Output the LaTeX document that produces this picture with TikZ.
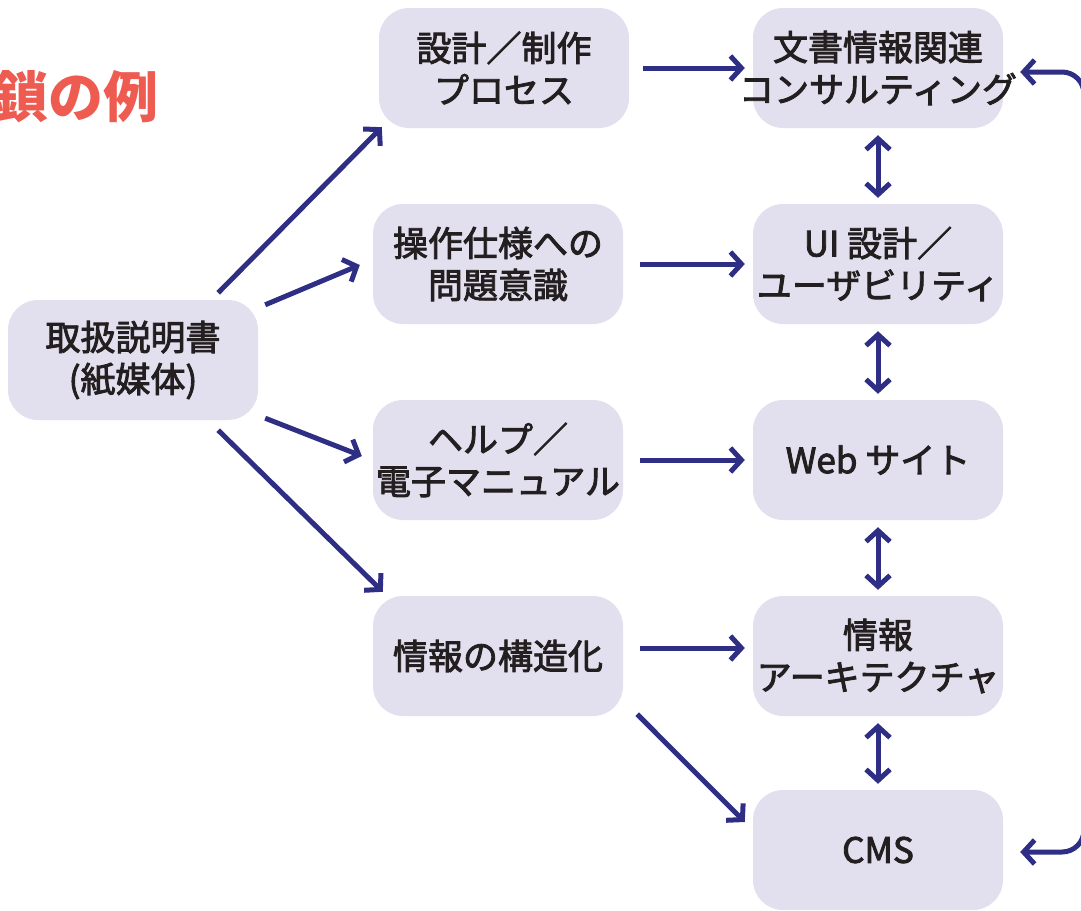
\documentclass[tikz,border=0pt]{standalone}
\usepackage{fontspec}
\setmainfont{Noto Sans CJK JP}
\newfontfamily\boxfont{Noto Sans CJK JP}[UprightFeatures={FakeBold=2.5}]
\usetikzlibrary{arrows.meta}
\definecolor{boxfill}{HTML}{E2E0EE}
\definecolor{arrowblue}{HTML}{2E2E85}
\definecolor{titlered}{HTML}{EE5B50}
\definecolor{ink}{HTML}{231F20}

\begin{document}
\begin{tikzpicture}[x=1pt,y=-1pt,
  box/.style={rounded corners=30pt, fill=boxfill, minimum width=250pt, minimum height=120pt,
    align=center, inner sep=0pt, text=ink, font=\boxfont\fontsize{35}{42}\selectfont},
  arr/.style={arrowblue, line width=5pt, -{Straight Barb[length=11pt,width=24pt]}},
  dbl/.style={arr, {Straight Barb[length=11pt,width=24pt]}-{Straight Barb[length=11pt,width=24pt]}}]
\useasboundingbox (0,0) rectangle (1081,910);

\node [text=titlered, font=\bfseries\fontsize{55}{60}\selectfont, anchor=east] (title) at (162,97) {鎖の例};

% left and middle column
\node [box] (manual) at (133,360) {取扱説明書\\(紙媒体)};
\node [box] (process) at (504,68) {設計／制作\\プロセス};
\node [box] (spec) at (498,264) {操作仕様への\\問題意識};
\node [box] (help) at (498,460) {ヘルプ／\\電子マニュアル};
\node [box] (struct) at (498,656) {情報の構造化};

% right column
\node [box] (consult) at (878,68) {文書情報関連\\\makebox[250pt]{コンサルティング}};
\node [box] (ui) at (878,264) {UI 設計／\\ユーザビリティ};
\node [box] (web) at (878,460) {Web サイト};
\node [box] (ia) at (878,656) {情報\\アーキテクチャ};
\node [box] (cms) at (878,850) {CMS};
\coordinate (rail) at (1084,0);

\draw [arr] ([shift={(-40,-7)}]manual.north east) -- ([shift={(3,-1)}]process.south west);
\draw [arr] ([shift={(7,5)}]manual.north east) -- ([shift={(-13,1)}]spec.west);
\draw [arr] ([shift={(7,-2)}]manual.south east) -- ([shift={(-11,-4)}]help.west);
\draw [arr] ([shift={(-40,10)}]manual.south east) -- ([shift={(10,-4)}]struct.north west);

\draw [arr] ([shift={(14,0)}]process.east) -- ([shift={(-8,0)}]consult.west);
\draw [arr] ([shift={(17,0)}]spec.east) -- ([shift={(-8,0)}]ui.west);
\draw [arr] ([shift={(17,0)}]help.east) -- ([shift={(-8,0)}]web.west);
\draw [arr] ([shift={(17,-8)}]struct.east) -- ([shift={(-8,-8)}]ia.west);
\draw [arr] ([shift={(14,-2)}]struct.south east) -- ([shift={(-8,-28)}]cms.west);

\draw [dbl] ([shift={(0,7)}]consult.south) -- ([shift={(0,-6)}]ui.north);
\draw [dbl] ([shift={(0,7)}]ui.south) -- ([shift={(0,-6)}]web.north);
\draw [dbl] ([shift={(0,7)}]web.south) -- ([shift={(0,-6)}]ia.north);
\draw [dbl] ([shift={(0,7)}]ia.south) -- ([shift={(0,-6)}]cms.north);

\draw [dbl, rounded corners=22pt] ([shift={(17,4)}]consult.east) -- ([shift={(0,4)}]consult.east -| rail)
  -- ([shift={(0,2)}]cms.east -| rail) -- ([shift={(17,2)}]cms.east);

\end{tikzpicture}
\end{document}
